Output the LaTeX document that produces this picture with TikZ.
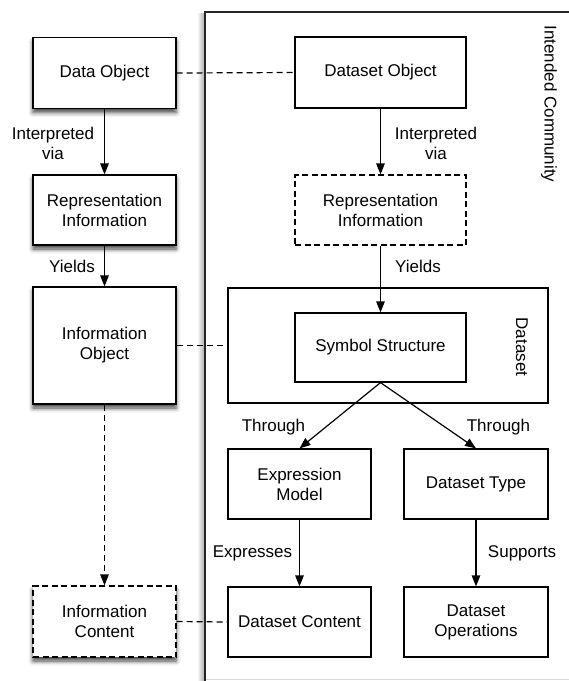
\documentclass[tikz,border=0pt]{standalone}
\usepackage{fontspec}
\setmainfont{Liberation Sans}
\usetikzlibrary{arrows.meta,shadows.blur}
\tikzset{
  box/.style={draw=black, line width=1.2pt, fill=white, inner sep=0pt, align=center,
    font=\fontsize{17}{20}\selectfont},
  shbox/.style={box, blur shadow={shadow xshift=0pt, shadow yshift=-4pt, shadow blur radius=4.5pt, shadow opacity=75}},
  dbox/.style={dash pattern=on 6pt off 3.5pt},
  lbl/.style={align=center, inner sep=0pt, font=\fontsize{17}{20}\selectfont},
  arr/.style={line width=1.2pt, -{Triangle[length=11pt,width=8.5pt]}},
  dline/.style={line width=1.2pt, dash pattern=on 6pt off 4pt},
}
\begin{document}
\begin{tikzpicture}[x=1pt,y=-1pt]
\useasboundingbox (0,0) rectangle (569,681);
% outer community frame with shadow on the left
\foreach \i in {1,...,7}{
  \draw[black, opacity={0.3*(8-\i)/7}, line width=1pt] (205-\i,13) -- (205-\i,690);
}
\draw[gray!30, line width=1pt] (205,679.5) -- (575,679.5);
\coordinate (ftr) at (575,12);
\coordinate (ftl) at (205,12);
\coordinate (fbl) at (205,690);
\draw[line width=1.4pt, black!85] (ftr) -- (ftl) -- (fbl);
\node[lbl, rotate=-90] (comm) at (549,104) {Intended Community};

% left column
\node[shbox, minimum width=143pt, minimum height=71pt] (dobj) at (104.5,73) {Data Object};
\node[shbox, minimum width=143pt, minimum height=70pt] (repl) at (104.5,210) {Representation\\Information};
\node[shbox, minimum width=143pt, minimum height=117pt] (iobj) at (104.5,345.5) {Information\\Object};
\node[shbox, dbox, minimum width=143pt, minimum height=71pt] (icont) at (104.5,621.5) {Information\\Content};

% right column
\node[box, minimum width=171pt, minimum height=71pt] (dsobj) at (380.5,72.5) {Dataset Object};
\node[box, dbox, minimum width=171pt, minimum height=70pt] (repr) at (380.5,210) {Representation\\Information};
\node[box, minimum width=320pt, minimum height=115pt] (dset) at (388,345.5) {};
\node[lbl, rotate=-90] (dsetlbl) at (522,347) {Dataset};
\node[box, minimum width=171pt, minimum height=69pt] (symb) at (380.5,347.5) {Symbol Structure};
\node[box, minimum width=143pt, minimum height=70pt] (expr) at (299.5,484) {Expression\\Model};
\node[box, minimum width=144pt, minimum height=70pt] (dtype) at (476,484) {Dataset Type};
\node[box, minimum width=143pt, minimum height=70pt] (dcont) at (299.5,622) {Dataset Content};
\node[box, minimum width=144pt, minimum height=70pt] (dops) at (476,622) {Dataset\\Operations};

% arrows
\draw[arr] (dobj.south) -- (repl.north);
\draw[arr] (repl.south) -- (iobj.north);
\draw[arr, dash pattern=on 6pt off 4pt] (iobj.south) -- (icont.north);
\draw[arr] (dsobj.south) -- (repr.north);
\draw[arr] (repr.south) -- (symb.north);
\draw[arr] (symb.south) -- (expr.north);
\draw[arr] (symb.south) -- (dtype.north);
\draw[arr] (expr.south) -- (dcont.north);
\draw[arr] (dtype.south) -- (dops.north);

% dashed associations
\draw[dline] (dobj.east) -- (dsobj.west);
\draw[dline] (iobj.east) -- (dset.west);
\draw[dline] (icont.east) -- (dcont.west);

% labels
\node[lbl] (l1) at (53,143) {Interpreted\\via};
\node[lbl] (l2) at (72,266) {Yields};
\node[lbl] (l3) at (436,143) {Interpreted\\via};
\node[lbl] (l4) at (418,266) {Yields};
\node[lbl] (l5) at (273.5,427) {Through};
\node[lbl] (l6) at (498.5,427) {Through};
\node[lbl] (l7) at (252.5,553) {Expresses};
\node[lbl] (l8) at (522,553) {Supports};
\end{tikzpicture}
\end{document}
